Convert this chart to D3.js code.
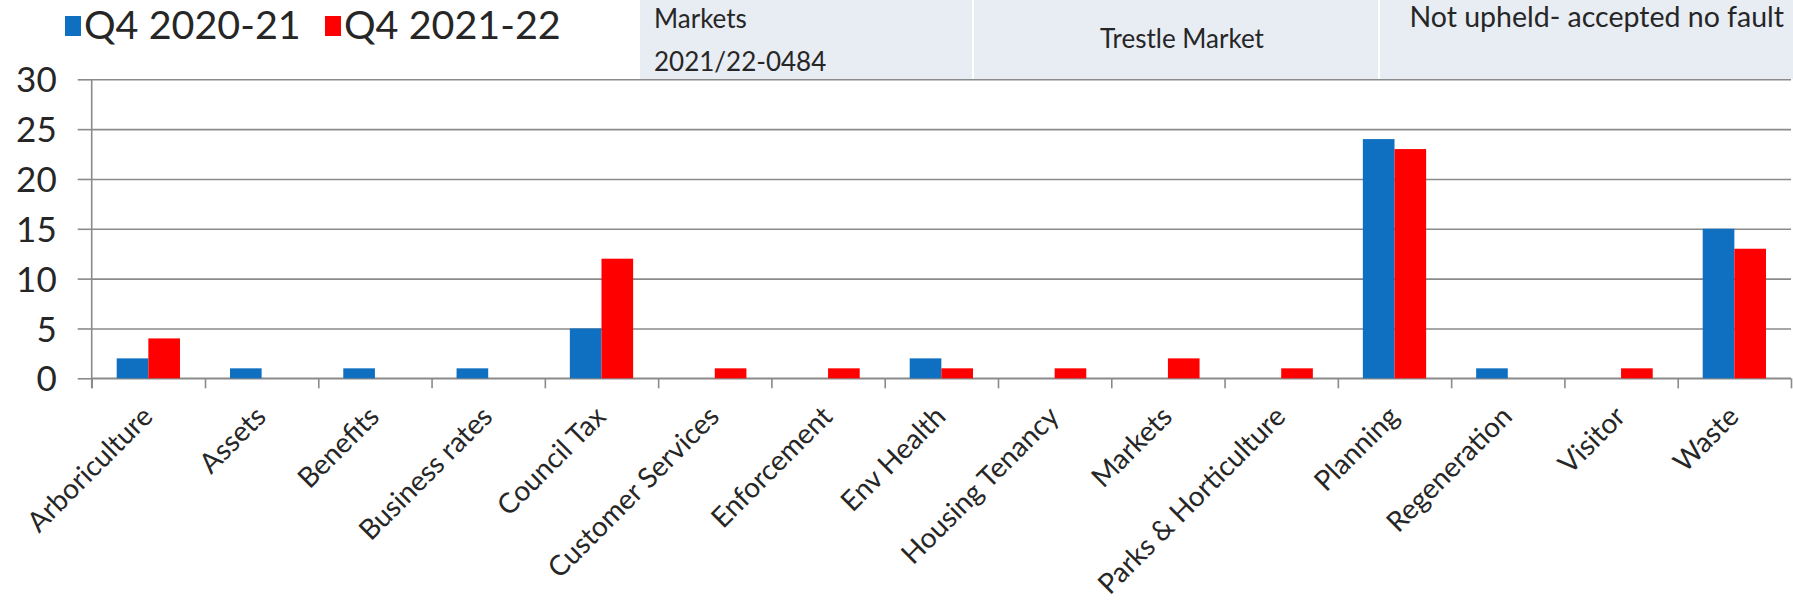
<!DOCTYPE html>
<html>
<head>
<meta charset="utf-8">
<script src="https://cdn.jsdelivr.net/npm/d3@7"></script>
<style>
  body { margin: 0; background: #fff; }
  svg { display: block; font-family: Lato, "Open Sans", sans-serif; }
  .grid line { stroke: #8a8a8a; stroke-width: 1.6; }
  .grid path { display: none; }
  .yaxis path, .yaxis line, .xaxis path, .xaxis line { stroke: #8a8a8a; stroke-width: 1.6; }
</style>
</head>
<body>
<div id="chart"></div>
<script>
// categories and series
var categories = ["Arboriculture", "Assets", "Benefits", "Business rates", "Council Tax",
  "Customer Services", "Enforcement", "Env Health", "Housing Tenancy", "Markets",
  "Parks & Horticulture", "Planning", "Regeneration", "Visitor", "Waste"];
var seriesNames = ["Q4 2020-21", "Q4 2021-22"];
var q4_2020_21 = [2, 1, 1, 1, 5, 0, 0, 2, 0, 0, 0, 24, 1, 0, 15];
var q4_2021_22 = [4, 0, 0, 0, 12, 1, 1, 1, 1, 2, 1, 23, 0, 1, 13];
var yTicks = [0, 5, 10, 15, 20, 25, 30];
var colors = ["#0f6fc0", "#ff0000"];

// the table strip pasted over the top of the chart
var tableCells = [["Markets", "2021/22-0484"], ["Trestle Market"], ["Not upheld- accepted no fault"]];

var w = 1793, h = 600;
var plotLeft = 91.7, plotRight = 1791, plotTop = 79.3, plotBottom = 378.3;

var svg = d3.select("#chart").append("svg")
  .attr("width", w)
  .attr("height", h);

var x = d3.scaleBand()
  .domain(categories)
  .range([plotLeft, plotRight]);

var x1 = d3.scaleBand()
  .domain(seriesNames)
  .range([0, x.bandwidth()])
  .paddingOuter(0.79);

var y = d3.scaleLinear()
  .domain([0, 30])
  .range([plotBottom, plotTop]);

// category boundaries for the tick marks
var xEdges = d3.scaleLinear()
  .domain([0, categories.length])
  .range([plotLeft, plotRight]);

//Table strip
var cellX = [640, 973, 1379, 1793];
svg.append("rect")
  .attr("x", cellX[0]).attr("y", 0)
  .attr("width", cellX[3] - cellX[0]).attr("height", plotTop)
  .attr("fill", "#e8ecf3");
svg.selectAll(".divider")
  .data([cellX[1], cellX[2]])
  .enter().append("line")
  .attr("x1", function(d) { return d; }).attr("x2", function(d) { return d; })
  .attr("y1", 0).attr("y2", plotTop)
  .attr("stroke", "#fff").attr("stroke-width", 2);

var cellText = svg.append("g")
  .attr("font-size", "26px")
  .attr("fill", "#262626");
cellText.append("text").attr("x", 654).attr("y", 28).text(tableCells[0][0]);
cellText.append("text").attr("x", 654).attr("y", 71).text(tableCells[0][1]);
cellText.append("text").attr("x", (cellX[1] + cellX[2]) / 2 + 6).attr("y", 48)
  .attr("text-anchor", "middle").text(tableCells[1][0]);
cellText.append("text").attr("x", 1784).attr("y", 27)
  .attr("text-anchor", "end")
  .attr("font-size", "28.5px")
  .text(tableCells[2][0]);

// gridlines
svg.append("g")
  .attr("class", "grid")
  .attr("transform", "translate(" + plotLeft + ",0)")
  .call(d3.axisLeft(y).tickValues(yTicks).tickSize(-(plotRight - plotLeft)).tickFormat(""));

// Y axis
svg.append("g")
  .attr("class", "yaxis")
  .attr("transform", "translate(" + plotLeft + ",0)")
  .call(d3.axisLeft(y).tickValues(yTicks).tickSize(14).tickSizeOuter(0).tickPadding(21))
  .call(function(g) {
    g.select(".domain").attr("d", "M0," + plotTop + "V" + (plotBottom + 10));
    g.selectAll("text")
      .attr("font-size", "35px")
      .attr("font-family", "Lato, sans-serif")
      .attr("fill", "#262626")
      .attr("dy", "0.36em");
  });

// X axis tick marks at the category edges
svg.append("g")
  .attr("class", "xaxis")
  .attr("transform", "translate(0," + plotBottom + ")")
  .call(d3.axisBottom(xEdges).ticks(categories.length).tickSize(10).tickFormat(""))
  .call(function(g) { g.select(".domain").attr("d", "M" + plotLeft + ",0H" + plotRight); });

// bars
var groups = svg.selectAll(".cat")
  .data(categories)
  .enter().append("g")
  .attr("transform", function(d) { return "translate(" + x(d) + ",0)"; });

groups.selectAll("rect")
  .data(function(d, i) { return [q4_2020_21[i], q4_2021_22[i]]; })
  .enter().append("rect")
  .attr("x", function(d, j) { return x1(seriesNames[j]); })
  .attr("width", x1.bandwidth())
  .attr("y", function(d) { return y(d); })
  .attr("height", function(d) { return plotBottom - y(d); })
  .attr("fill", function(d, j) { return colors[j]; });

// category labels
svg.selectAll(".catlabel")
  .data(categories)
  .enter().append("text")
  .attr("class", "catlabel")
  .attr("text-anchor", "end")
  .attr("font-size", "28px")
  .attr("fill", "#262626")
  .attr("transform", function(d) {
    return "translate(" + (x(d) + x.bandwidth() / 2 + 6) + "," + (plotBottom + 40) + ") rotate(-45)";
  })
  .text(function(d) { return d; });

//Legend
var legend = svg.selectAll(".legend")
  .data(seriesNames)
  .enter().append("g")
  .attr("transform", function(d, i) { return "translate(" + (65 + i * 260) + ",0)"; });
legend.append("rect")
  .attr("x", 0).attr("y", 16)
  .attr("width", 16).attr("height", 20)
  .attr("fill", function(d, i) { return colors[i]; });
legend.append("text")
  .attr("x", 19).attr("y", 39)
  .attr("font-size", "39.5px")
  .attr("fill", "#262626")
  .text(function(d) { return d; });
</script>
</body>
</html>
